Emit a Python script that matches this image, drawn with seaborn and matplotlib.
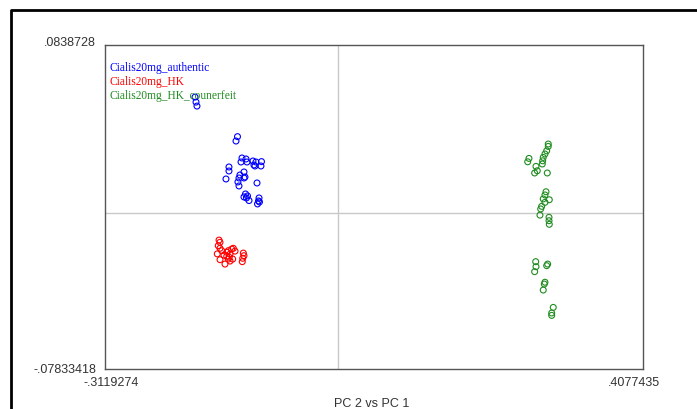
"""
PCA score plot, PC 2 vs PC 1, three Cialis groups
"""

import matplotlib
matplotlib.use("Agg")
import matplotlib.pyplot as plt
from matplotlib.lines import Line2D
import seaborn as sns
import pandas as pd

groups = ["Cialis20mg_authentic", "Cialis20mg_HK", "Cialis20mg_HK_counerfeit"]
colors = ["#0000ff", "#ff0000", "#1e8c1e"]

authentic_x = [-0.1915, -0.1902, -0.1889, -0.1347, -0.1367, -0.1287, -0.1300, -0.1233, -0.1220,
               -0.1140, -0.1127, -0.1100, -0.1026, -0.1033, -0.1113, -0.1461, -0.1461, -0.1501,
               -0.1314, -0.1260, -0.1247, -0.1327, -0.1341, -0.1327, -0.1260, -0.1086, -0.1240,
               -0.1213, -0.1227, -0.1193, -0.1260, -0.1059, -0.1066, -0.1079, -0.1053]
authentic_y = [0.0578, 0.0553, 0.0533, 0.0380, 0.0358, 0.0273, 0.0253, 0.0268, 0.0253,
               0.0258, 0.0238, 0.0253, 0.0255, 0.0233, 0.0233, 0.0228, 0.0208, 0.0168,
               0.0188, 0.0203, 0.0178, 0.0173, 0.0153, 0.0133, 0.0173, 0.0148, 0.0093,
               0.0083, 0.0073, 0.0060, 0.0078, 0.0073, 0.0058, 0.0043, 0.0053]

hk_x = [-0.1581, -0.1604, -0.1581, -0.1617, -0.1581, -0.1514, -0.1491, -0.1470, -0.1447,
        -0.1425, -0.1403, -0.1457, -0.1411, -0.1491, -0.1269, -0.1260, -0.1277, -0.1283,
        -0.1558, -0.1470, -0.1380, -0.1528, -0.1447, -0.1594]
hk_y = [-0.0149, -0.0166, -0.0179, -0.0207, -0.0236, -0.0258, -0.0199, -0.0191, -0.0208,
        -0.0183, -0.0179, -0.0224, -0.0233, -0.0219, -0.0203, -0.0216, -0.0229, -0.0246,
        -0.0191, -0.0233, -0.0193, -0.0213, -0.0243, -0.0138]

fake_x = [0.2810, 0.2810, 0.2789, 0.2766, 0.2743, 0.2735, 0.2730, 0.2552, 0.2535, 0.2646,
          0.2663, 0.2628, 0.2797, 0.2780, 0.2766, 0.2743, 0.2824, 0.2766, 0.2722, 0.2709,
          0.2699, 0.2820, 0.2820, 0.2824, 0.2642, 0.2646, 0.2628, 0.2802, 0.2789, 0.2766,
          0.2757, 0.2743, 0.2877, 0.2856, 0.2856]
fake_y = [0.0343, 0.0331, 0.0309, 0.0293, 0.0276, 0.0259, 0.0243, 0.0271, 0.0254, 0.0231,
          0.0209, 0.0198, 0.0198, 0.0104, 0.0088, 0.0068, 0.0064, 0.0051, 0.0031, 0.0018,
          -0.0013, -0.0024, -0.0041, -0.0059, -0.0246, -0.0271, -0.0296, -0.0258, -0.0266,
          -0.0349, -0.0358, -0.0388, -0.0475, -0.0503, -0.0515]

x_min, x_max = -0.3119274, 0.4077435
y_min, y_max = -0.07833418, 0.0838728
x_labels = ["-.3119274", ".4077435"]
y_labels = [".0838728", "-.07833418"]
title = "PC 2 vs PC 1"


def main():
    scores = pd.concat([
        pd.DataFrame({"PC1": authentic_x, "PC2": authentic_y, "Group": groups[0]}),
        pd.DataFrame({"PC1": hk_x, "PC2": hk_y, "Group": groups[1]}),
        pd.DataFrame({"PC1": fake_x, "PC2": fake_y, "Group": groups[2]}),
    ], ignore_index=True)

    sns.set_style("white")
    fig = plt.figure(figsize=(6.97, 4.10), dpi=100)
    ax = fig.add_axes([105 / 697, 1 - 370 / 410, 538 / 697, 324 / 410])

    ax.axvline(0, color="#c8c8c8", lw=1, zorder=0)
    ax.axhline(0, color="#c8c8c8", lw=1, zorder=0)

    sns.scatterplot(scores, x="PC1", y="PC2", hue="Group", palette=colors,
                    hue_order=groups, s=18, linewidth=0.8, legend=False, ax=ax)
    # open circles: move the fill colour onto the edge
    coll = ax.collections[-1]
    coll.set_edgecolors(coll.get_facecolors())
    coll.set_facecolor("none")

    ax.set_xlim(x_min, x_max)
    ax.set_ylim(y_min, y_max)
    ax.set_xticks([])
    ax.set_yticks([])
    ax.set_xlabel("")
    ax.set_ylabel("")
    for side in ax.spines.values():
        side.set_color("#555555")
        side.set_linewidth(1)

    tick_font = dict(family="Liberation Sans", fontsize=9, color="#333333")
    ax.text(-9 / 538, 1 + 3 / 324, y_labels[0], transform=ax.transAxes, ha="right", va="center", **tick_font)
    ax.text(-9 / 538, 0, y_labels[1], transform=ax.transAxes, ha="right", va="center", **tick_font)
    ax.text(6 / 538, -13 / 324, x_labels[0], transform=ax.transAxes, ha="center", va="center", **tick_font)
    ax.text(1 - 9 / 538, -13 / 324, x_labels[1], transform=ax.transAxes, ha="center", va="center", **tick_font)
    fig.text(372 / 697, 1 - 404 / 410, title, ha="center", va="center", **tick_font)

    for i, (name, col) in enumerate(zip(groups, colors)):
        ax.text(5 / 538, 1 - (21.5 + 14 * i) / 324, name, transform=ax.transAxes, ha="left", va="center",
                family="Liberation Serif", fontsize=8.3, color=col)

    # outer frame, left and top edges only
    fx = 10.5 / 697
    fy = 1 - 10.5 / 410
    fig.add_artist(Line2D([fx, fx, 1], [0, fy, fy], color="black", lw=2, transform=fig.transFigure))

    fig.savefig("out.png", dpi=100)


main()
